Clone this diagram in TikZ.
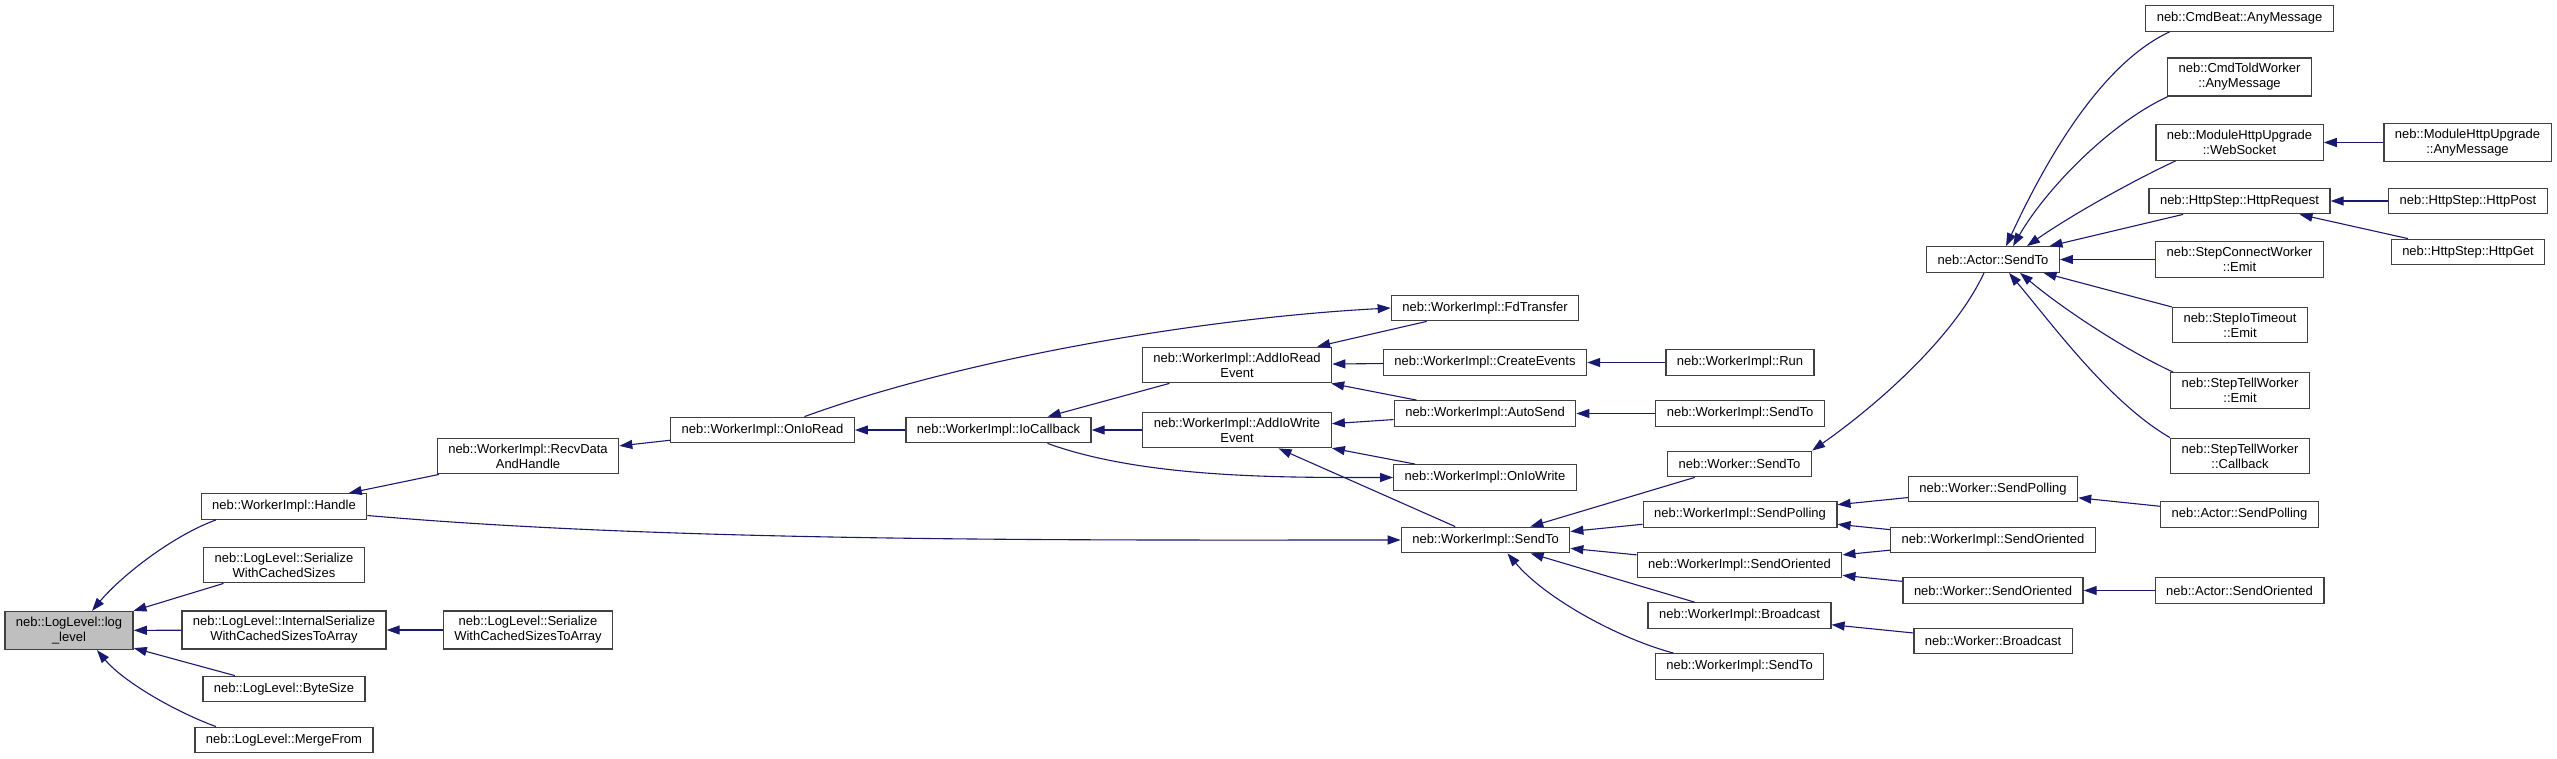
\documentclass[tikz,border=0pt]{standalone}
\usepackage{fontspec}
\setmainfont{Liberation Sans}
\usepackage{tikz}
\usetikzlibrary{arrows.meta}
\definecolor{azulnoche}{HTML}{191970}
\definecolor{borde}{HTML}{404040}
\definecolor{actual}{HTML}{BFBFBF}

\begin{document}
\begin{tikzpicture}[x=1pt, y=1pt, font=\fontsize{13}{15}\selectfont,
  fn/.style={draw=borde, line width=1.3pt, fill=white, align=center,
    inner xsep=11pt, inner ysep=5.5pt, minimum height=25.5pt},
  call/.style={draw=azulnoche, line width=1.1pt, -{Triangle[length=13pt,width=9pt]}}]
  \useasboundingbox (0,0) rectangle (2557,-759);
  \node[fn, fill=actual] (ll) at (69,-630.5) {neb::LogLevel::log\\\_level};
  \node[fn] (handle)    at (284,-506.5) {neb::WorkerImpl::Handle};
  \node[fn] (serwcs)    at (284,-565)   {neb::LogLevel::Serialize\\WithCachedSizes};
  \node[fn] (intser)    at (284,-630)   {neb::LogLevel::InternalSerialize\\WithCachedSizesToArray};
  \node[fn] (bytesize)  at (284,-689)   {neb::LogLevel::ByteSize};
  \node[fn] (mergefrom) at (284,-740)   {neb::LogLevel::MergeFrom};
  \node[fn] (recv)      at (528,-456)   {neb::WorkerImpl::RecvData\\AndHandle};
  \node[fn] (sertoarr)  at (528,-630)   {neb::LogLevel::Serialize\\WithCachedSizesToArray};
  \node[fn] (onioread)  at (762.5,-430) {neb::WorkerImpl::OnIoRead};
  \node[fn] (iocb)      at (998.5,-430) {neb::WorkerImpl::IoCallback};
  \node[fn] (addread)   at (1237,-365)  {neb::WorkerImpl::AddIoRead\\Event};
  \node[fn] (addwrite)  at (1237,-430)  {neb::WorkerImpl::AddIoWrite\\Event};
  \node[fn] (fdtransfer) at (1485,-308) {neb::WorkerImpl::FdTransfer};
  \node[fn] (createev)  at (1485,-362.5) {neb::WorkerImpl::CreateEvents};
  \node[fn] (autosend)  at (1485,-413.5) {neb::WorkerImpl::AutoSend};
  \node[fn] (oniowrite) at (1485,-477.5) {neb::WorkerImpl::OnIoWrite};
  \node[fn] (sendto)    at (1485.5,-540) {neb::WorkerImpl::SendTo};
  \node[fn] (run)       at (1740,-362.5) {neb::WorkerImpl::Run};
  \node[fn] (sendtoa)   at (1740,-413.5) {neb::WorkerImpl::SendTo};
  \node[fn] (wsendto)   at (1739.5,-464) {neb::Worker::SendTo};
  \node[fn] (sendpoll)  at (1740,-514.5) {neb::WorkerImpl::SendPolling};
  \node[fn] (sendori)   at (1739.5,-565) {neb::WorkerImpl::SendOriented};
  \node[fn] (bcast)     at (1739.5,-615.5) {neb::WorkerImpl::Broadcast};
  \node[fn] (sendtob)   at (1739.5,-666.5) {neb::WorkerImpl::SendTo};
  \node[fn] (asendto)   at (1993,-259.5) {neb::Actor::SendTo};
  \node[fn] (wsendpoll) at (1993,-489)   {neb::Worker::SendPolling};
  \node[fn] (sendori2)  at (1993,-540)   {neb::WorkerImpl::SendOriented};
  \node[fn] (wsendori)  at (1993,-590.5) {neb::Worker::SendOriented};
  \node[fn] (wbcast)    at (1993,-641)   {neb::Worker::Broadcast};
  \node[fn] (cmdbeat)   at (2239.5,-18.5) {neb::CmdBeat::AnyMessage};
  \node[fn] (cmdtold)   at (2239.5,-77)  {neb::CmdToldWorker\\::AnyMessage};
  \node[fn] (websock)   at (2239.5,-142.5) {neb::ModuleHttpUpgrade\\::WebSocket};
  \node[fn] (httpreq)   at (2239.5,-201) {neb::HttpStep::HttpRequest};
  \node[fn] (stepconn)  at (2239.5,-259.5) {neb::StepConnectWorker\\::Emit};
  \node[fn] (stepio)    at (2240,-325)   {neb::StepIoTimeout\\::Emit};
  \node[fn] (tellemit)  at (2240,-390.5) {neb::StepTellWorker\\::Emit};
  \node[fn] (tellcb)    at (2240,-456)   {neb::StepTellWorker\\::Callback};
  \node[fn] (asendpoll) at (2239.5,-514.5) {neb::Actor::SendPolling};
  \node[fn] (asendori)  at (2239.5,-590.5) {neb::Actor::SendOriented};
  \node[fn] (mhuany)    at (2467.5,-142.5) {neb::ModuleHttpUpgrade\\::AnyMessage};
  \node[fn] (httppost)  at (2468,-201)   {neb::HttpStep::HttpPost};
  \node[fn] (httpget)   at (2468,-252)   {neb::HttpStep::HttpGet};

  \draw[call] ([xshift=-68pt]handle.south) .. controls +(200:46) and +(50:46) .. ([xshift=23pt]ll.north);
  \draw[call] (serwcs) -- (ll);
  \draw[call] (intser) -- (ll);
  \draw[call] (bytesize) -- (ll);
  \draw[call] ([xshift=-68pt]mergefrom.north) .. controls +(160:42) and +(-50:42) .. ([xshift=28pt]ll.south);
  \draw[call] (sertoarr) -- (intser);
  \draw[call] (recv) -- (handle);
  \draw[call] ([yshift=-9pt]handle.east) .. controls +(-5:310) and +(180:310) .. (sendto.west);
  \draw[call] (onioread) -- (recv);
  \draw[call] ([xshift=42pt]onioread.north) .. controls +(20:178) and +(183:178) .. (fdtransfer.west);
  \draw[call] (iocb) -- (onioread);
  \draw[call] (addread) -- (iocb);
  \draw[call] (addwrite) -- (iocb);
  \draw[call] ([xshift=49pt]iocb.south) .. controls +(-20:104) and +(180:104) .. (oniowrite.west);
  \draw[call] (fdtransfer) -- (addread);
  \draw[call] (createev) -- (addread);
  \draw[call] (autosend) -- (addread);
  \draw[call] (autosend) -- (addwrite);
  \draw[call] (oniowrite) -- (addwrite);
  \draw[call] (sendto) -- (addwrite);
  \draw[call] (run) -- (createev);
  \draw[call] (sendtoa) -- (autosend);
  \draw[call] (wsendto) -- (sendto);
  \draw[call] (sendpoll) -- (sendto);
  \draw[call] (sendori) -- (sendto);
  \draw[call] (bcast) -- (sendto);
  \draw[call] ([xshift=-66pt]sendtob.north) .. controls +(165:58) and +(-50:58) .. ([xshift=22pt]sendto.south);
  \draw[call] ([xshift=-9pt]asendto.south) .. controls +(-115:74) and +(35:74) .. (wsendto.north east);
  \draw[call] ([xshift=-70pt]cmdbeat.south) .. controls +(205:81) and +(65:81) .. ([xshift=13pt]asendto.north);
  \draw[call] ([xshift=-72pt]cmdtold.south) .. controls +(205:65) and +(60:65) .. ([xshift=20pt]asendto.north);
  \draw[call] ([xshift=-64pt]websock.south) .. controls +(205:51) and +(35:51) .. ([xshift=34pt]asendto.north);
  \draw[call] (httpreq) -- (asendto);
  \draw[call] (stepconn) -- (asendto);
  \draw[call] (stepio) -- (asendto);
  \draw[call] ([xshift=-67pt]tellemit.north) .. controls +(155:55) and +(-40:55) .. ([xshift=27pt]asendto.south);
  \draw[call] (tellcb.north west) .. controls +(150:69) and +(-50:69) .. ([xshift=16pt]asendto.south);
  \draw[call] (mhuany) -- (websock);
  \draw[call] (httppost) -- (httpreq);
  \draw[call] (httpget) -- (httpreq);
  \draw[call] (wsendpoll) -- (sendpoll);
  \draw[call] (sendori2) -- (sendpoll);
  \draw[call] (sendori2) -- (sendori);
  \draw[call] (wsendori) -- (sendori);
  \draw[call] (asendpoll) -- (wsendpoll);
  \draw[call] (asendori) -- (wsendori);
  \draw[call] (wbcast) -- (bcast);
\end{tikzpicture}
\end{document}
